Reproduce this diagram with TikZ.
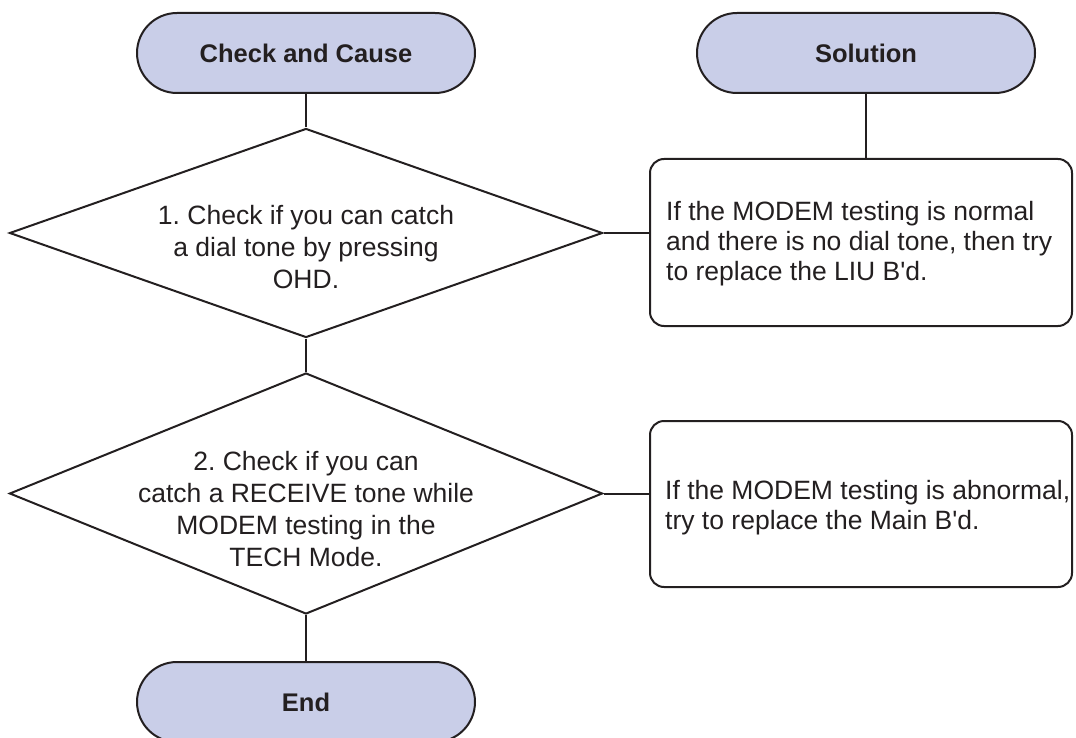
\documentclass[tikz,border=0pt]{standalone}
\usepackage{fontspec}
\setmainfont{Liberation Sans}[Ligatures=TeXOff]
\usetikzlibrary{shapes.geometric}
\definecolor{ink}{HTML}{231F20}
\definecolor{lav}{HTML}{C9CEE8}
\tikzset{
  term/.style={draw=ink, fill=lav, line width=2pt, minimum width=338pt, minimum height=80pt,
    rounded corners=40pt, inner sep=0pt, text=ink,
    font=\fontsize{25.5}{30}\selectfont\bfseries},
  decide/.style={draw=ink, line width=2pt, shape=diamond, inner sep=0pt, minimum width=593pt},
  dtext/.style={align=center, text=ink, inner sep=0pt, font=\fontsize{26.5}{32}\selectfont},
  solbox/.style={draw=ink, line width=2pt, rounded corners=14pt, minimum width=422pt, inner sep=0pt},
  stext/.style={align=left, anchor=west, text=ink, inner sep=0pt, font=\fontsize{26.5}{30}\selectfont},
  conn/.style={draw=ink, line width=2pt}
}
\begin{document}
\frenchspacing
\begin{tikzpicture}[x=1pt,y=-1pt]
\useasboundingbox (0,0) rectangle (1076,738);
\node[term] (cc) at (306,53) {Check and Cause};
\node[term] (sol) at (866,53) {Solution};
\node[decide, minimum height=209pt] (d1) at (306,233) {};
\node[dtext] (t1) at (306,247) {1. Check if you can catch\\a dial tone by pressing\\OHD.};
\node[solbox, minimum height=167pt] (b1) at (861,242.5) {};
\node[stext] (s1) at (666,244) {If the MODEM testing is normal\\and there is no dial tone, then try\\to replace the LIU B'd.};
\node[decide, minimum height=241pt] (d2) at (306,493.5) {};
\node[dtext] (t2) at (306,509) {2. Check if you can\\catch a RECEIVE tone while\\MODEM testing in the\\TECH Mode.};
\node[solbox, minimum height=166pt] (b2) at (861,504) {};
\node[stext] (s2) at (665,508) {If the MODEM testing is abnormal,\\try to replace the Main B'd.};
\node[term] (end) at (306,702) {End};
\draw[conn] (cc.south) -- (d1.north);
\draw[conn] (d1.south) -- (d2.north);
\draw[conn] (d2.south) -- (end.north);
\draw[conn] (sol.south) -- (sol.south |- b1.north);
\draw[conn] (d1.east) -- (d1.east -| b1.west);
\draw[conn] (d2.east) -- (d2.east -| b2.west);
\end{tikzpicture}
\end{document}
